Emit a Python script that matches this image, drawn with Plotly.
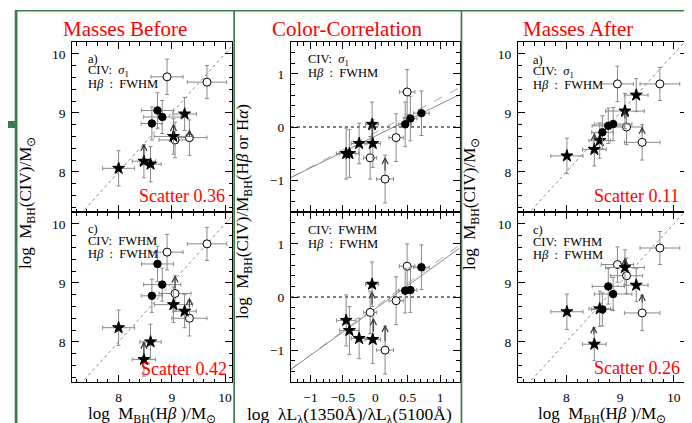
import plotly.graph_objects as go

W, H = 692, 423
FONT = 'Liberation Serif'
GREEN = '#3d7a50'
GREY = '#8a8a8a'
RED = '#ff0000'


def fx(px):
    return px / W


def fy(py):
    return 1 - py / H


# Hbeta masses (x of side panels), order: stars, filled circles, open circles
hb_bef_star_x = [8.00, 8.475, 8.60, 9.03, 9.24]
hb_bef_fill_x = [8.625, 8.73, 8.82]
hb_bef_open_x = [9.06, 9.33, 8.91, 9.66]

hb_aft_star_x = [8.01, 8.52, 8.62, 9.09, 9.30]
hb_aft_fill_x = [8.67, 8.78, 8.87]
hb_aft_open_x = [9.12, 9.41, 8.95, 9.74]

# CIV masses
bef_a_star_y = [8.06, 8.18, 8.13, 8.60, 8.98]
bef_a_fill_y = [8.82, 9.04, 8.93]
bef_a_open_y = [8.54, 8.58, 9.61, 9.52]

bef_c_star_y = [8.24, 7.70, 8.00, 8.63, 8.52]
bef_c_fill_y = [8.78, 9.32, 8.97]
bef_c_open_y = [8.82, 8.40, 9.52, 9.66]

aft_a_star_y = [8.27, 8.38, 8.53, 9.03, 9.30]
aft_a_fill_y = [8.67, 8.78, 8.81]
aft_a_open_y = [8.76, 8.50, 9.49, 9.49]

aft_c_star_y = [8.51, 7.96, 8.56, 9.26, 8.96]
aft_c_fill_y = [8.55, 8.94, 8.81]
aft_c_open_y = [9.12, 8.49, 9.31, 9.59]

# errors for the mass panels
hb_star_ex = [0.30, 0.22, 0.20, 0.36, 0.22]
hb_fill_ex = [0.20, 0.30, 0.35]
hb_open_ex = [0.30, 0.33, 0.30, 0.37]
civ_star_ey = [0.30, 0.28, 0.30, 0.30, 0.28]
civ_fill_ey = [0.28, 0.30, 0.28]
civ_open_ey = [0.30, 0.30, 0.30, 0.28]

# colour panels: log lambda L(1350)/lambda L(5100) vs mass ratio
col_star_x = [-0.45, -0.40, -0.25, -0.04, -0.05]
col_fill_x = [0.46, 0.54, 0.71]
col_open_x = [-0.08, 0.15, 0.32, 0.49]

col_a_star_y = [-0.50, -0.50, -0.31, -0.31, 0.05]
col_a_fill_y = [0.05, 0.16, 0.26]
col_a_open_y = [-0.58, -0.98, -0.20, 0.66]

col_c_star_y = [-0.44, -0.63, -0.78, -0.80, 0.24]
col_c_fill_y = [0.12, 0.13, 0.56]
col_c_open_y = [-0.29, -1.00, -0.07, 0.58]

col_star_ex = [0.15, 0.15, 0.12, 0.12, 0.10]
col_fill_ex = [0.10, 0.10, 0.12]
col_open_ex = [0.10, 0.13, 0.11, 0.12]
col_star_ey = [0.48, 0.45, 0.38, 0.45, 0.42]
col_fill_ey = [0.42, 0.42, 0.42]
col_open_ey = [0.40, 0.45, 0.45, 0.42]

# fits in colour panels (intercept, slope)
col_a_fit_solid = (-0.17, 0.60)
col_a_fit_dash = (-0.105, 0.65)
col_c_fit_solid = (-0.22, 0.877)
col_c_fit_dash = (-0.19, 0.90)

# lower-limit arrows: x, tail y, head y
bef_a_arr = ([8.475, 9.03, 9.33], [8.20, 8.60, 8.57], [8.48, 8.82, 8.72])
bef_c_arr = ([8.475, 9.06, 9.33], [7.74, 8.88, 8.57], [8.01, 9.13, 8.75])
col_a_arr = ([-0.05, 0.15], [-0.25, -0.85], [0.08, -0.56])
col_c_arr = ([-0.05, -0.03, 0.15], [-0.17, -0.68, -0.86], [0.11, -0.39, -0.52])
aft_a_arr = ([8.52, 9.09, 9.41], [8.52, 8.88, 8.63], [8.66, 9.06, 8.77])
aft_c_arr = ([8.51, 9.09, 9.41], [8.10, 9.29, 8.64], [8.27, 9.43, 8.82])

scatter_txt = ['Scatter 0.36', 'Scatter 0.42', 'Scatter 0.11', 'Scatter 0.26']

fig = go.Figure()


def points(n, xs, ys, ex, ey, sym, col, size):
    fig.add_trace(go.Scatter(
        x=xs, y=ys, xaxis='x' + n, yaxis='y' + n, mode='markers',
        marker=dict(symbol=sym, size=size, color=col, line=dict(color='black', width=1)),
        error_x=dict(type='data', array=ex, color=GREY, thickness=1, width=2),
        error_y=dict(type='data', array=ey, color=GREY, thickness=1, width=2),
        hoverinfo='skip'))


def panel(n, sx, sy, fxs, fys, ox, oy, ex3, ey3):
    points(n, ox, oy, ex3[2], ey3[2], 'circle', 'white', 8)
    points(n, sx, sy, ex3[0], ey3[0], 'star', 'black', 9)
    points(n, fxs, fys, ex3[1], ey3[1], 'circle', 'black', 7.5)


mass_ex = (hb_star_ex, hb_fill_ex, hb_open_ex)
mass_ey = (civ_star_ey, civ_fill_ey, civ_open_ey)
col_ex = (col_star_ex, col_fill_ex, col_open_ex)
col_ey = (col_star_ey, col_fill_ey, col_open_ey)

# one-to-one lines
for n in ['1', '4', '3', '6']:
    fig.add_trace(go.Scatter(x=[6, 11], y=[6, 11], xaxis='x' + n, yaxis='y' + n, mode='lines',
                             line=dict(color=GREY, width=1, dash='dot'), hoverinfo='skip'))

# colour panel lines
for n, sol, das in [('2', col_a_fit_solid, col_a_fit_dash), ('5', col_c_fit_solid, col_c_fit_dash)]:
    xx = [-1.3, 1.3]
    fig.add_trace(go.Scatter(x=[-1.3, 1.3], y=[0, 0], xaxis='x' + n, yaxis='y' + n, mode='lines',
                             line=dict(color='black', width=1, dash='dot'), hoverinfo='skip'))
    fig.add_trace(go.Scatter(x=xx, y=[das[0] + das[1] * v for v in xx], xaxis='x' + n, yaxis='y' + n,
                             mode='lines', line=dict(color='#aaaaaa', width=1, dash='dash'), hoverinfo='skip'))
    fig.add_trace(go.Scatter(x=xx, y=[sol[0] + sol[1] * v for v in xx], xaxis='x' + n, yaxis='y' + n,
                             mode='lines', line=dict(color=GREY, width=1), hoverinfo='skip'))

panel('1', hb_bef_star_x, bef_a_star_y, hb_bef_fill_x, bef_a_fill_y, hb_bef_open_x, bef_a_open_y, mass_ex, mass_ey)
panel('4', hb_bef_star_x, bef_c_star_y, hb_bef_fill_x, bef_c_fill_y, hb_bef_open_x, bef_c_open_y, mass_ex, mass_ey)
panel('3', hb_aft_star_x, aft_a_star_y, hb_aft_fill_x, aft_a_fill_y, hb_aft_open_x, aft_a_open_y, mass_ex, mass_ey)
panel('6', hb_aft_star_x, aft_c_star_y, hb_aft_fill_x, aft_c_fill_y, hb_aft_open_x, aft_c_open_y, mass_ex, mass_ey)
panel('2', col_star_x, col_a_star_y, col_fill_x, col_a_fill_y, col_open_x, col_a_open_y, col_ex, col_ey)
panel('5', col_star_x, col_c_star_y, col_fill_x, col_c_fill_y, col_open_x, col_c_open_y, col_ex, col_ey)

cols = {'L': [64.3, 224], 'M': [283, 451.7], 'R': [510, 679.3]}
rows = {'T': [34, 204], 'B': [204, 374]}
layout_axes = {}
specs = [('1', 'L', 'T'), ('2', 'M', 'T'), ('3', 'R', 'T'),
         ('4', 'L', 'B'), ('5', 'M', 'B'), ('6', 'R', 'B')]
for n, c, r in specs:
    if c == 'M':
        xr, xd, xm = [-1.3, 1.3], 0.5, 0.1
        yr = [-1.6, 1.6]
    elif c == 'L':
        xr, xd, xm = [7.13, 10.13], 1, 0.2
        yr = [7.32, 10.2]
    else:
        xr, xd, xm = [7.1, 10.25], 1, 0.2
        yr = [7.32, 10.2]
    common = dict(ticks='inside', ticklen=7, tickcolor='black', tickwidth=1, mirror='allticks',
                  showline=True, linecolor='black', linewidth=1, showgrid=False, zeroline=False,
                  tickfont=dict(family=FONT, size=13.5, color='black'), ticklabelstandoff=3)
    layout_axes['xaxis' + ('' if n == '1' else n)] = dict(
        domain=[fx(cols[c][0]), fx(cols[c][1])], range=xr, dtick=xd, tick0=0,
        minor=dict(dtick=xm, tick0=0, ticks='inside', ticklen=3.5, tickcolor='black'),
        showticklabels=(r == 'B'), anchor='y' + n, **common)
    layout_axes['yaxis' + ('' if n == '1' else n)] = dict(
        domain=[fy(rows[r][1]), fy(rows[r][0])], range=yr, dtick=1, tick0=0,
        minor=dict(dtick=0.2, tick0=0, ticks='inside', ticklen=3.5, tickcolor='black'),
        showticklabels=True, anchor='x' + n, **common)

ann = []


def txt(text, px, py, size, color='black', xanchor='left', angle=0):
    ann.append(dict(text=text, x=fx(px), y=fy(py), xref='paper', yref='paper', showarrow=False,
                    xanchor=xanchor, yanchor='middle', textangle=angle,
                    font=dict(family=FONT, size=size, color=color)))


txt('Masses Before', 117, 21, 21, RED, 'center')
txt('Color-Correlation', 339.5, 21, 21, RED, 'center')
txt('Masses After', 570, 21, 21, RED, 'center')

sig = 'CIV:  <i>σ</i><sub>1</sub>'
fw = 'CIV:  FWHM'
hb = 'H<i>β</i>  :  FWHM'
for x0, y0, lab, civ in [(78, 51, 'a)', sig), (78, 221, 'c)', fw), (523, 52, 'a)', sig), (523, 222, 'c)', fw)]:
    txt(lab, x0, y0, 12.5)
    txt(civ, x0, y0 + 12, 12.5)
    txt(hb, x0, y0 + 25, 12.5)
txt(sig, 298, 52, 12.5)
txt(hb, 298, 65, 12.5)
txt(fw, 298, 222, 12.5)
txt(hb, 298, 236, 12.5)

for s, (px, py) in zip(scatter_txt, [(219, 188), (221, 361), (673, 188), (674, 360)]):
    txt(s, px, py, 18, RED, 'right')

ylab = 'log  M<sub>BH</sub>(CIV)/M<sub>⊙</sub>'
txt(ylab, 19, 195, 17, 'black', 'center', -90)
txt(ylab, 463, 196, 17, 'black', 'center', -90)
txt('log  M<sub>BH</sub>(CIV)/M<sub>BH</sub>(H<i>β</i> or H<i>α</i>)', 236, 204, 17, 'black', 'center', -90)
xlab = 'log  M<sub>BH</sub>(H<i>β</i> )/M<sub>⊙</sub>'
txt(xlab, 144, 407, 17, 'black', 'center')
txt(xlab, 594, 407, 17, 'black', 'center')
txt('log  λL<sub>λ</sub>(1350Å)/λL<sub>λ</sub>(5100Å)', 341, 407, 17.5, 'black', 'center')

# arrows for limits
for n, arr in [('1', bef_a_arr), ('4', bef_c_arr), ('2', col_a_arr), ('5', col_c_arr),
               ('3', aft_a_arr), ('6', aft_c_arr)]:
    for x0, yt, yh in zip(*arr):
        ann.append(dict(x=x0, y=yh, ax=x0, ay=yt, xref='x' + n, yref='y' + n, axref='x' + n, ayref='y' + n,
                        text='', showarrow=True, arrowhead=5, arrowsize=1.2, arrowwidth=1, arrowcolor='#333333'))

shapes = []


def box(x0, x1, y0, y1):
    shapes.append(dict(type='rect', xref='paper', yref='paper', x0=fx(x0), x1=fx(x1), y0=fy(y1), y1=fy(y0),
                       fillcolor=GREEN, line=dict(width=0), layer='above'))


box(7, 687, 2, 3.6)
box(6.7, 9.5, 2, 423)
box(225.3, 227, 2, 423)
box(452.6, 454.3, 2, 423)
box(682.8, 686.8, 2, 423)
box(0, 8, 113, 120)

fig.update_layout(width=W, height=H, margin=dict(l=0, r=0, t=0, b=0), paper_bgcolor='white',
                  plot_bgcolor='white', showlegend=False, annotations=ann, shapes=shapes, **layout_axes)

fig.write_html('out.html')
